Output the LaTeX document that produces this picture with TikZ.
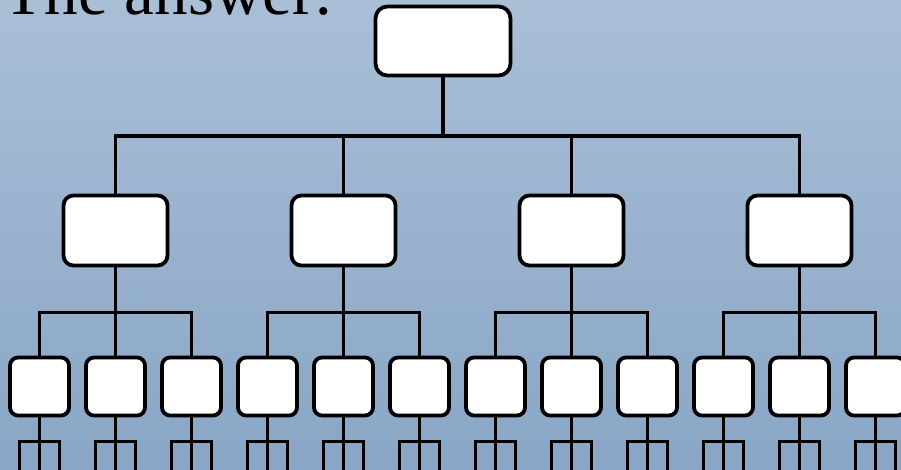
\documentclass[tikz,border=0pt]{standalone}
\usepackage{fontspec}
\setmainfont{Liberation Serif}
\usetikzlibrary{trees}
\definecolor{skytop}{RGB}{169,191,214}
\definecolor{skybottom}{RGB}{137,166,198}

\begin{document}
\begin{tikzpicture}[x=1pt, y=1pt, line width=3.8pt,
    topbox/.style = {shape=rectangle, draw, fill=white, rounded corners=12pt,
      minimum width=135pt, minimum height=69pt},
    midbox/.style = {shape=rectangle, draw, fill=white, rounded corners=10pt,
      minimum width=104pt, minimum height=70pt},
    leafbox/.style = {shape=rectangle, draw, fill=white, rounded corners=8pt,
      minimum width=59pt, minimum height=58pt},
    level 1/.style = {grow via three points={one child at (14.5,-189.5)
        and two children at (-99.5,-189.5) and (128.5,-189.5)},
      edge from parent path={(\tikzparentnode.south) -- ++(0,-59) -| (\tikzchildnode.north)}},
    level 2/.style = {grow via three points={one child at (0,-156)
        and two children at (-38,-156) and (38,-156)},
      edge from parent path={(\tikzparentnode.south) -- ++(0,-45) -| (\tikzchildnode.north)}},
    level 3/.style = {grow via three points={one child at (0,-83.5)
        and two children at (-10,-83.5) and (10,-83.5)},
      edge from parent path={(\tikzparentnode.south) -- ++(0,-24) -| (\tikzchildnode)}}]
    \useasboundingbox (0,0) rectangle (901,-470);
    \shade[top color=skytop, bottom color=skybottom] (0,0) rectangle (901,-470);
    \node[anchor=base west, inner sep=0pt, font=\fontsize{67}{80}\selectfont] (title)
      at (2,-15) {The answer:};
    \node[topbox] (root) at (443,-41) {}
      child foreach \i in {1,...,4} { node[midbox] {}
        child foreach \j in {1,2,3} { node[leafbox] {}
          child foreach \k in {1,2,3} {coordinate}}};
  \end{tikzpicture}
\end{document}
